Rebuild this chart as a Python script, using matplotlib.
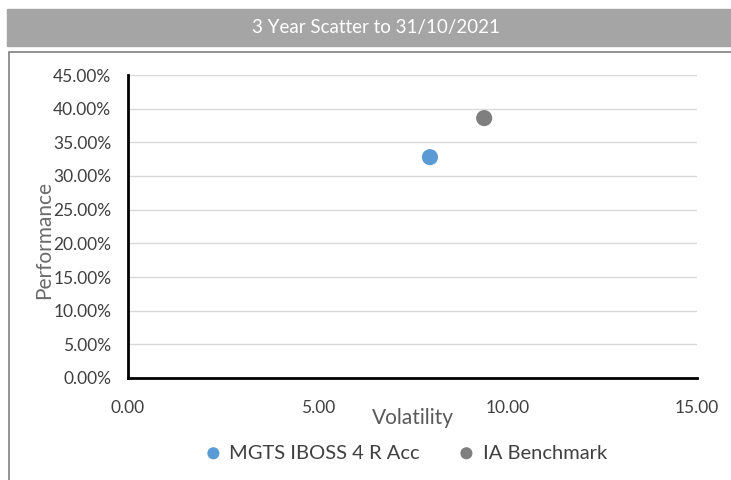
import matplotlib.pyplot as plt
from matplotlib.patches import Rectangle
from matplotlib.ticker import FuncFormatter

plt.rcParams['font.family'] = ['Lato', 'DejaVu Sans']

names = ['MGTS IBOSS 4 R Acc', 'IA Benchmark']
volatility = [7.96, 9.39]
performance = [32.8, 38.6]
colors = ['#5b9bd5', '#7f7f7f']

fig = plt.figure(figsize=(7.31, 4.80), dpi=100)
W, H = 731, 480

# title banner and chart frame
fig.patches.append(Rectangle((7 / W, 1 - 46 / H), 724 / W, 37 / H,
                             transform=fig.transFigure, color='#a5a5a5', zorder=0))
fig.text(376 / W, 1 - 28 / H, '3 Year Scatter to 31/10/2021', color='white',
         fontsize=13.5, ha='center', va='center')
fig.patches.append(Rectangle((9 / W, -0.01), 730 / W, 1 - 52 / H + 0.01,
                             transform=fig.transFigure, fill=False,
                             edgecolor='#808080', lw=1.2, zorder=0))

ax = fig.add_axes([128 / W, 1 - 378 / H, 569 / W, 303 / H])
for n, x, y, c in zip(names, volatility, performance, colors):
    ax.scatter(x, y, s=135, color=c, label=n, zorder=3, edgecolors='none')

ax.set_xlim(0, 15)
ax.set_ylim(0, 45)
ax.set_xticks([0, 5, 10, 15])
ax.set_yticks(range(0, 50, 5))
ax.xaxis.set_major_formatter(FuncFormatter(lambda v, p: f'{v:.2f}'))
ax.yaxis.set_major_formatter(FuncFormatter(lambda v, p: f'{v:.2f}%'))
ax.tick_params(length=0, labelsize=12.5, labelcolor='#404040', pad=12)
ax.tick_params(axis='x', pad=16)
ax.grid(axis='y', color='#d9d9d9', lw=1)
ax.set_axisbelow(True)
for s in ['top', 'right']:
    ax.spines[s].set_visible(False)
for s in ['left', 'bottom']:
    ax.spines[s].set_linewidth(2)
    ax.spines[s].set_color('black')

fig.text(413 / W, 1 - 418 / H, 'Volatility', fontsize=15, color='#595959',
         ha='center', va='center')
fig.text(44 / W, 1 - 240 / H, 'Performance', fontsize=15, color='#6a6a6a',
         ha='center', va='center', rotation=90)

fig.legend(loc='center', bbox_to_anchor=(400 / W, 1 - 453 / H), ncol=2,
           frameon=False, fontsize=14.5, handletextpad=-0.2, columnspacing=1.3,
           markerscale=0.75, labelcolor='#404040')

fig.savefig('out.png', dpi=100)
